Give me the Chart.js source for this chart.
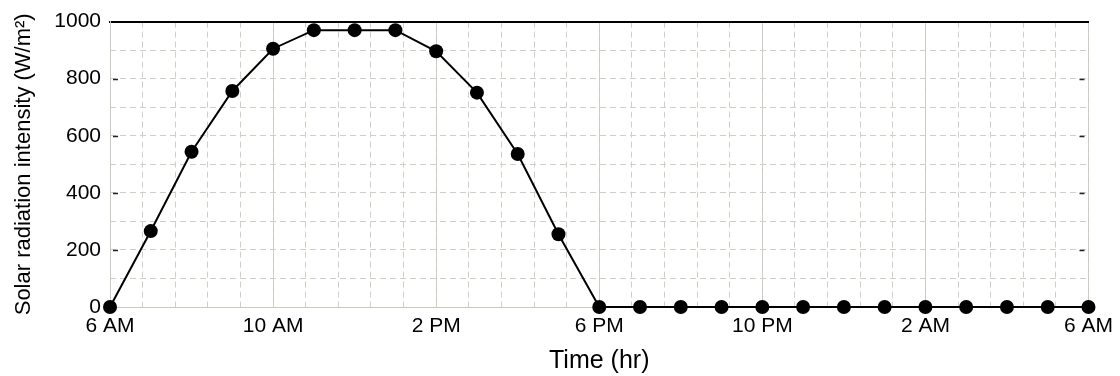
<!DOCTYPE html>
<html>
<head>
<meta charset="utf-8">
<script src="https://cdn.jsdelivr.net/npm/chart.js@4/dist/chart.umd.min.js"></script>
<style>
  html, body { margin: 0; padding: 0; background: #ffffff; }
  canvas { display: block; }
</style>
</head>
<body>
<canvas id="c" width="1120" height="376"></canvas>
<script>
// Hours after 6 AM
const hours = [0, 1, 2, 3, 4, 5, 6, 7, 8, 9, 10, 11, 12, 13, 14, 15, 16, 17, 18, 19, 20, 21, 22, 23, 24];
// Solar radiation intensity (W/m²)
const radiation = [0, 266, 544, 757, 905, 970, 970, 970, 896, 751, 536, 255, 0, 0, 0, 0, 0, 0, 0, 0, 0, 0, 0, 0, 0];
// X tick labels (every 4 hours)
const xTickLabels = ['6 AM', '10 AM', '2 PM', '6 PM', '10 PM', '2 AM', '6 AM'];
// Y tick values
const yTicks = [0, 200, 400, 600, 800, 1000];
const yMarks = [200, 400, 600, 800];

const points = hours.map((h, i) => ({ x: h, y: radiation[i] }));

const FONT = "'Liberation Sans', Arial, sans-serif";
const MAJOR = '#cdc8bf';
const MINOR = '#d2cec6';

const tickMarks = {
  id: 'tickMarks',
  afterDatasetsDraw(chart) {
    const { ctx, chartArea, scales } = chart;
    ctx.save();
    ctx.strokeStyle = '#222';
    ctx.lineWidth = 1.5;
    yMarks.forEach(v => {
      const y = Math.round(scales.y.getPixelForValue(v)) + 0.5;
      ctx.beginPath();
      ctx.moveTo(chartArea.left + 3, y);
      ctx.lineTo(chartArea.left + 8, y);
      ctx.moveTo(chartArea.right - 9, y);
      ctx.lineTo(chartArea.right - 4, y);
      ctx.stroke();
    });
    ctx.restore();
  }
};

new Chart(document.getElementById('c'), {
  type: 'line',
  data: {
    datasets: [{
      data: points,
      borderColor: '#000',
      backgroundColor: '#000',
      borderWidth: 2,
      pointRadius: 7,
      pointHoverRadius: 7,
      pointBackgroundColor: '#000',
      pointBorderColor: '#000',
      pointBorderWidth: 0,
      tension: 0,
      clip: false
    }]
  },
  options: {
    responsive: false,
    animation: false,
    events: [],
    layout: { padding: { left: 0, right: 31, top: 0, bottom: 0 } },
    plugins: { legend: { display: false }, tooltip: { enabled: false } },
    scales: {
      x: {
        type: 'linear',
        position: 'bottom',
        min: 0, max: 24,
        weight: 2,
        afterFit: s => { s.height = 69; },
        ticks: {
          stepSize: 4,
          autoSkip: false,
          maxRotation: 0,
          padding: 7,
          color: '#000',
          font: { family: FONT, size: 21 },
          callback: v => xTickLabels[Math.round(v / 4)]
        },
        grid: { color: MAJOR, lineWidth: 1, drawTicks: false },
        border: { display: true, color: MAJOR, width: 1 },
        title: {
          display: true,
          text: 'Time (hr)',
          color: '#000',
          font: { family: FONT, size: 25 },
          padding: { top: 0, bottom: 0 }
        }
      },
      xMinor: {
        type: 'linear',
        position: 'bottom',
        min: 0, max: 24,
        weight: 1,
        afterFit: s => { s.height = 0; },
        ticks: { display: false, stepSize: 0.8 },
        grid: { color: MINOR, lineWidth: 1, drawTicks: false },
        border: { display: false, dash: [6, 4] }
      },
      xTop: {
        type: 'linear',
        position: 'top',
        min: 0, max: 24,
        afterFit: s => { s.height = 17; },
        ticks: { display: false },
        grid: { display: false, drawTicks: false },
        border: { display: true, color: '#000', width: 2 }
      },
      y: {
        type: 'linear',
        position: 'left',
        min: 0, max: 1000,
        weight: 2,
        afterFit: s => { s.width = 110; },
        afterBuildTicks: s => { s.ticks = yTicks.map(v => ({ value: v })); },
        ticks: {
          padding: 9,
          color: '#000',
          font: { family: FONT, size: 21 },
          callback: v => String(v)
        },
        grid: { display: false, drawTicks: false },
        border: { display: true, color: MAJOR, width: 1 },
        title: {
          display: true,
          text: 'Solar radiation intensity (W/m²)',
          color: '#000',
          font: { family: FONT, size: 22 },
          padding: { top: 11, bottom: 0 }
        }
      },
      yMinor: {
        type: 'linear',
        position: 'left',
        min: 0, max: 1000,
        weight: 1,
        afterFit: s => { s.width = 0; },
        ticks: { display: false, stepSize: 100 },
        grid: { color: MINOR, lineWidth: 1, drawTicks: false },
        border: { display: false, dash: [6, 4] }
      }
    }
  },
  plugins: [tickMarks]
});
</script>
</body>
</html>
